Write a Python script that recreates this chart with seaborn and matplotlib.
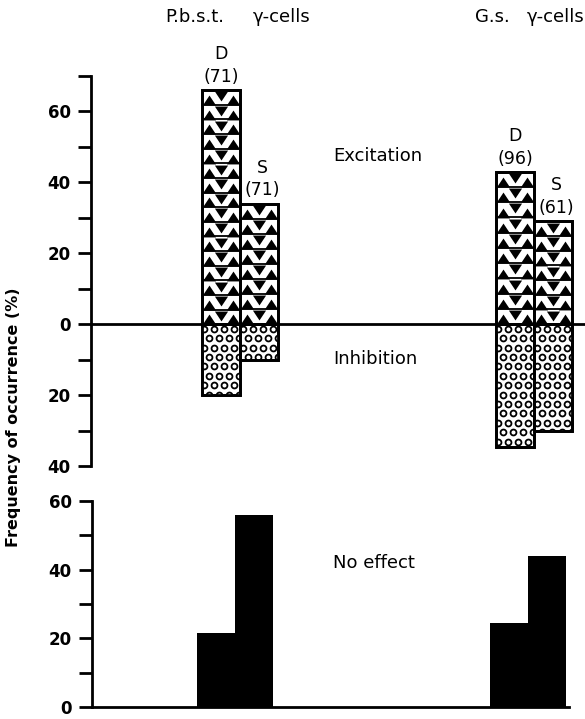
import numpy as np
import pandas as pd
import matplotlib
matplotlib.use('Agg')
import matplotlib.pyplot as plt
import seaborn as sns

# values (%), order: P.b.s.t. D, P.b.s.t. S, G.s. D, G.s. S
groups = ['P.b.s.t.', 'G.s.']
stim = ['D', 'S']
n_cells = [71, 71, 96, 61]
excitation = [66, 34, 43, 29]
inhibition = [20, 10, 34.5, 30]
no_effect = [21.5, 56, 24.5, 44]

df = pd.DataFrame({
    'group': [g for g in groups for s in stim],
    'stim': stim * 2,
    'n': n_cells,
    'exc': excitation,
    'inh': [-v for v in inhibition],
    'none': no_effect,
})

sns.set_style('white')
plt.rcParams['font.family'] = ['DejaVu Sans']
plt.rcParams['text.color'] = 'black'

W, H = 585, 719
fig = plt.figure(figsize=(W / 100, H / 100), dpi=100)


def px_axes(x0, y0, x1, y1):
    return fig.add_axes([x0 / W, 1 - y1 / H, (x1 - x0) / W, (y1 - y0) / H])


ax1 = px_axes(91, 76, 585, 466)
ax2 = px_axes(92, 501, 569, 707)

LW = 2.0
bar_kw = dict(x='group', hue='stim', order=groups, hue_order=stim, dodge=True,
              width=0.26, gap=0, legend=False, errorbar=None)

# top panel: excitation (up) and inhibition (down)
sns.barplot(data=df, y='exc', ax=ax1, palette={'D': 'white', 'S': 'white'},
            edgecolor='black', linewidth=LW, **bar_kw)
exc_bars = sorted(ax1.patches, key=lambda p: p.get_x())
sns.barplot(data=df, y='inh', ax=ax1, palette={'D': 'white', 'S': 'white'},
            edgecolor='black', linewidth=LW, **bar_kw)
inh_bars = sorted([p for p in ax1.patches if p not in exc_bars], key=lambda p: p.get_x())

ax1.set_xlim(-0.507, 1.173)
ax1.set_ylim(-40, 70)

up = [(-1, -0.75), (1, -0.75), (0, 0.75)]
down = [(-1, 0.75), (1, 0.75), (0, -0.75)]

# triangle fill for excitation bars
for p in exc_bars:
    x0, w, h = p.get_x(), p.get_width(), p.get_height()
    nrow = max(1, round(h / 4.2))
    rh = h / nrow
    bottoms = np.arange(nrow) * rh
    xs_up = np.concatenate([np.full(nrow, x0 + 0.19 * w), np.full(nrow, x0 + 0.81 * w)])
    ys_up = np.concatenate([bottoms + 1.35, bottoms + 1.35])
    s1 = ax1.scatter(xs_up, ys_up, marker=up, s=90, color='black', linewidths=0, zorder=1.5)
    s2 = ax1.scatter(np.full(nrow, x0 + 0.5 * w), bottoms + rh - 1.75, marker=down, s=90,
                     color='black', linewidths=0, zorder=1.5)
    ln = ax1.hlines(bottoms[1:], x0, x0 + w, color='black', lw=1.3, zorder=1.5)
    for a in (s1, s2, ln):
        a.set_clip_path(p)

# circle fill for inhibition bars
dx, dy = 0.034, 2.65
for p in inh_bars:
    x0, w = p.get_x(), p.get_width()
    lo = min(p.get_y(), p.get_y() + p.get_height())
    xs, ys = [], []
    for i, yy in enumerate(np.arange(-dy / 2, lo - dy, -dy)):
        off = 0.25 * dx if i % 2 == 0 else 0.75 * dx
        row = np.arange(x0 + off, x0 + w + dx, dx)
        xs.extend(row)
        ys.extend([yy] * len(row))
    sc = ax1.scatter(xs, ys, marker='o', s=18, facecolor='white', edgecolor='black',
                     linewidths=1.3, zorder=1.5)
    sc.set_clip_path(p)

for p in exc_bars + inh_bars:
    ax1.add_patch(plt.Rectangle(p.get_xy(), p.get_width(), p.get_height(), fill=False,
                                edgecolor='black', lw=LW, zorder=4))

ax1.axhline(0, color='black', lw=LW, zorder=3)

# D / S labels with cell counts
for p, s, n in zip(exc_bars, df['stim'], df['n']):
    dxo = 0 if s == 'D' else 2.5
    ax1.annotate(f'{s}\n({n})', xy=(p.get_x() + p.get_width() / 2, p.get_height()),
                 xytext=(dxo, 3), textcoords='offset points', ha='center', va='bottom',
                 fontsize=12.5, linespacing=1.35, annotation_clip=False)

ax1.text(0.316, 47.3, 'Excitation', fontsize=13, va='center', ha='left')
ax1.text(0.316, -9.9, 'Inhibition', fontsize=13, va='center', ha='left')

# bottom panel: no effect
sns.barplot(data=df, y='none', ax=ax2, palette={'D': 'black', 'S': 'black'},
            edgecolor='black', linewidth=0, **bar_kw)
ax2.set_xlim(-0.49, 1.14)
ax2.set_ylim(0, 60)
ax2.text(0.332, 41.8, 'No effect', fontsize=13, va='center', ha='left')

# axes styling
t1 = np.arange(-40, 71, 10)
ax1.set_yticks(t1)
ax1.set_yticklabels([str(abs(v)) if v % 20 == 0 else '' for v in t1],
                    fontweight='bold', fontsize=12)
t2 = np.arange(0, 61, 10)
ax2.set_yticks(t2)
ax2.set_yticklabels([str(v) if v % 20 == 0 else '' for v in t2],
                    fontweight='bold', fontsize=12)

for ax in (ax1, ax2):
    ax.set_xticks([])
    ax.set_xlabel('')
    ax.set_ylabel('')
    ax.tick_params(axis='y', direction='out', length=9.5, width=LW, pad=5,
                   left=True, colors='black')
    for side in ('top', 'right'):
        ax.spines[side].set_visible(False)
    ax.spines['left'].set_linewidth(LW)
    ax.spines['left'].set_color('black')
    ax.patch.set_alpha(0)
ax1.spines['bottom'].set_visible(False)
ax2.spines['bottom'].set_linewidth(LW)
ax2.spines['bottom'].set_color('black')

# headers and y label
fig.text(165 / W, 1 - 17 / H, 'P.b.s.t.', fontsize=13, ha='left', va='center')
fig.text(253 / W, 1 - 17 / H, 'γ-cells', fontsize=13, ha='left', va='center')
fig.text(475 / W, 1 - 17 / H, 'G.s.', fontsize=13, ha='left', va='center')
fig.text(527 / W, 1 - 17 / H, 'γ-cells', fontsize=13, ha='left', va='center')
fig.text(14 / W, 1 - 417 / H, 'Frequency of occurrence (%)', rotation=90,
         fontsize=11.5, fontweight='bold', ha='center', va='center')

fig.savefig('out.png', dpi=100)
